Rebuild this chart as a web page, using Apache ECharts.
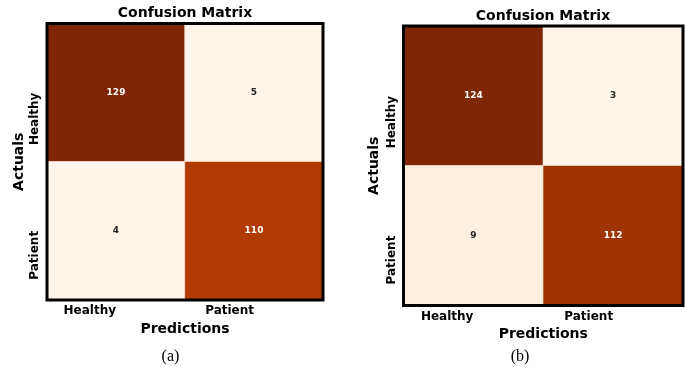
<!DOCTYPE html>
<html>
<head>
<meta charset="utf-8">
<script src="https://cdn.jsdelivr.net/npm/echarts@6/dist/echarts.min.js"></script>
<style>
  html, body { margin: 0; padding: 0; background: #fff; }
  #chart { width: 685px; height: 367px; }
</style>
</head>
<body>
<div id="chart"></div>
<script>
// categories (rows = actual, cols = predicted)
var categories = ['Healthy', 'Patient'];
var matrixA = [[129, 5], [4, 110]];
var matrixB = [[124, 3], [9, 112]];
var captions = ['(a)', '(b)'];
// matplotlib "Oranges" colormap stops
var orangesColors = ['#fff5eb', '#fee6ce', '#fdd0a2', '#fdae6b', '#fd8d3c', '#f16913', '#d94801', '#a63603', '#7f2704'];

var FONT = 'DejaVu Sans';

function toCells(matrix) {
  var flat = [].concat.apply([], matrix);
  var lo = Math.min.apply(null, flat), hi = Math.max.apply(null, flat);
  var out = [];
  matrix.forEach(function (row, r) {
    row.forEach(function (v, c) {
      out.push({
        value: [c, r, v],
        label: { color: (v - lo) / (hi - lo) > 0.5 ? '#ffffff' : '#262626' }
      });
    });
  });
  return out;
}
function range(matrix) {
  var flat = [].concat.apply([], matrix);
  return [Math.min.apply(null, flat), Math.max.apply(null, flat)];
}

var grids = [
  { left: 47, top: 23.5, width: 276, height: 276.5 },
  { left: 403.5, top: 26, width: 279.5, height: 279.5 }
];
var layoutX = [ { margin: 5, nameGap: 20 }, { margin: 5, nameGap: 22 } ];
var layoutY = [ { margin: 6, nameGap: 21 }, { margin: 6, nameGap: 22 } ];

var myChart = echarts.init(document.getElementById('chart'));
var option = {
  animation: false,
  backgroundColor: '#ffffff',
  title: [
    { text: 'Confusion Matrix', left: 185, top: 6, textAlign: 'center', padding: 0,
      textStyle: { fontFamily: FONT, fontWeight: 'bold', fontSize: 14, color: '#000' } },
    { text: 'Confusion Matrix', left: 543, top: 9, textAlign: 'center', padding: 0,
      textStyle: { fontFamily: FONT, fontWeight: 'bold', fontSize: 14, color: '#000' } },
    { text: captions[0], left: 170.5, top: 349, textAlign: 'center', padding: 0,
      textStyle: { fontFamily: 'Liberation Serif', fontWeight: 'normal', fontSize: 16, color: '#000' } },
    { text: captions[1], left: 520, top: 349, textAlign: 'center', padding: 0,
      textStyle: { fontFamily: 'Liberation Serif', fontWeight: 'normal', fontSize: 16, color: '#000' } }
  ],
  grid: grids.map(function (g) {
    return Object.assign({
      show: true, borderColor: '#000', borderWidth: 3, z: 10,
      backgroundColor: 'transparent', containLabel: false
    }, g);
  }),
  xAxis: [0, 1].map(function (i) {
    return {
      type: 'category', gridIndex: i, data: categories, position: 'bottom',
      name: 'Predictions', nameLocation: 'middle', nameGap: layoutX[i].nameGap,
      nameTextStyle: { fontFamily: FONT, fontWeight: 'bold', fontSize: 14, color: '#000' },
      axisLine: { show: false },
      axisTick: { alignWithLabel: true, length: 5, lineStyle: { color: '#444', width: 1 } },
      axisLabel: { align: 'right', margin: layoutX[i].margin, fontFamily: FONT, fontWeight: 'bold', fontSize: 12, color: '#000' },
      splitLine: { show: false }
    };
  }),
  yAxis: [0, 1].map(function (i) {
    return {
      type: 'category', gridIndex: i, data: categories, inverse: true,
      name: 'Actuals', nameLocation: 'middle', nameGap: layoutY[i].nameGap, nameRotate: 90,
      nameTextStyle: { fontFamily: FONT, fontWeight: 'bold', fontSize: 14, color: '#000' },
      axisLine: { show: false },
      axisTick: { alignWithLabel: true, length: 5, lineStyle: { color: '#444', width: 1 } },
      axisLabel: { rotate: 90, align: 'right', verticalAlign: 'bottom', margin: layoutY[i].margin,
        fontFamily: FONT, fontWeight: 'bold', fontSize: 12, color: '#000' },
      splitLine: { show: false }
    };
  }),
  visualMap: [
    { type: 'continuous', show: false, seriesIndex: 0, dimension: 2,
      min: range(matrixA)[0], max: range(matrixA)[1], inRange: { color: orangesColors } },
    { type: 'continuous', show: false, seriesIndex: 1, dimension: 2,
      min: range(matrixB)[0], max: range(matrixB)[1], inRange: { color: orangesColors } }
  ],
  series: [
    { type: 'heatmap', xAxisIndex: 0, yAxisIndex: 0, data: toCells(matrixA),
      itemStyle: { borderColor: 'rgba(255,235,220,0.7)', borderWidth: 0.8 },
      label: { show: true, fontFamily: FONT, fontWeight: 'bold', fontSize: 9 } },
    { type: 'heatmap', xAxisIndex: 1, yAxisIndex: 1, data: toCells(matrixB),
      itemStyle: { borderColor: 'rgba(255,235,220,0.7)', borderWidth: 0.8 },
      label: { show: true, fontFamily: FONT, fontWeight: 'bold', fontSize: 9 } }
  ]
};
option && myChart.setOption(option);
</script>
</body>
</html>
